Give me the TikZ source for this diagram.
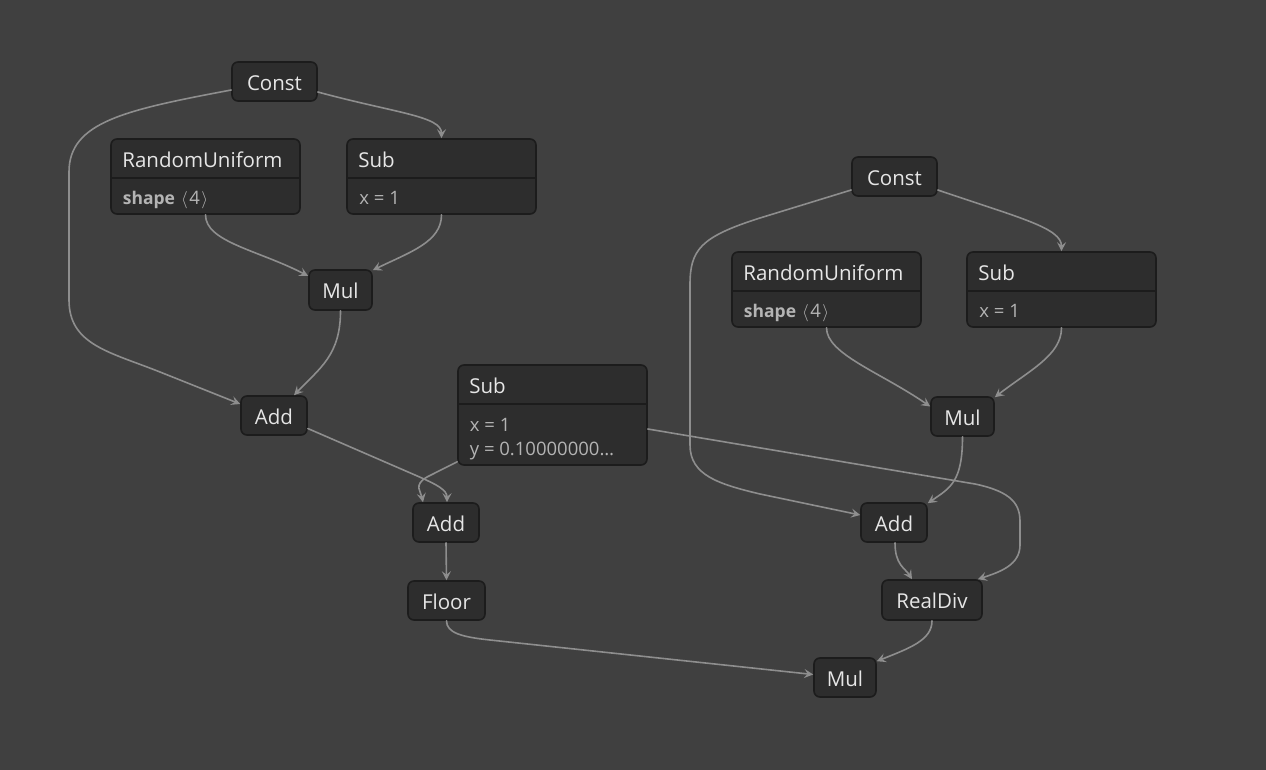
\documentclass[tikz,border=0pt]{standalone}
\usepackage{fontspec}
\setmainfont{Open Sans}
\usetikzlibrary{arrows.meta,calc}

\definecolor{bgcol}{HTML}{404040}
\definecolor{nodefill}{HTML}{2D2D2D}
\definecolor{nodeline}{HTML}{1C1C1C}
\definecolor{titlecol}{HTML}{E6E6E6}
\definecolor{attrcol}{HTML}{B4B4B4}
\definecolor{edgecol}{HTML}{8E8E8E}

\newcommand{\shapeattr}{{\fontsize{17.5}{21}\selectfont\textbf{shape}}\hspace{6pt}\ensuremath{\langle}\hspace{1.5pt}4\hspace{1.5pt}\ensuremath{\rangle}}

\tikzset{
  op/.style={draw=nodeline, fill=nodefill, rounded corners=6pt, line width=1.6pt,
    inner sep=0pt, text=titlecol, text height=17.5pt, text depth=0pt,
    font=\fontsize{20.5}{24}\selectfont},
  ttl/.style={anchor=base west, inner sep=0pt, text=titlecol, font=\fontsize{20.5}{24}\selectfont},
  attr/.style={anchor=base west, inner sep=0pt, text=attrcol, font=\fontsize{18.5}{22}\selectfont},
  sep/.style={draw=nodeline, line width=1.6pt},
  edge/.style={draw=edgecol, line width=1.6pt, line cap=round,
    -{Stealth[length=9pt,width=9pt,inset=3.5pt]}},
}

\begin{document}
\begin{tikzpicture}[x=1pt,y=-1pt]
\useasboundingbox[fill=bgcol] (0,0) rectangle (1266,770);

% ---- left branch ----
\node[op, minimum width=85pt, minimum height=39pt] (c1) at (274.5,81.5) {Const};

\node[op, minimum width=189pt, minimum height=75pt] (ru1) at (205.5,176.5) {};
\draw[sep] ($(ru1.north west)+(0,40)$) -- ($(ru1.north east)+(0,40)$);
\node[ttl] (ru1t) at ($(ru1.north west)+(12,29.5)$) {RandomUniform};
\node[attr] (ru1a) at ($(ru1.north west)+(12.5,66.3)$) {\shapeattr};

\node[op, minimum width=189pt, minimum height=75pt] (sub1) at (441.5,176.5) {};
\draw[sep] ($(sub1.north west)+(0,40)$) -- ($(sub1.north east)+(0,40)$);
\node[ttl] (sub1t) at ($(sub1.north west)+(12,29.5)$) {Sub};
\node[attr] (sub1a) at ($(sub1.north west)+(13,66.3)$) {x = 1};

\node[op, minimum width=63pt, minimum height=40pt] (mul1) at (340.5,290) {Mul};
\node[op, minimum width=66pt, minimum height=39pt] (add1) at (274,415.5) {Add};

% ---- centre ----
\node[op, minimum width=189pt, minimum height=100pt] (sub3) at (552.5,415) {};
\draw[sep] ($(sub3.north west)+(0,40)$) -- ($(sub3.north east)+(0,40)$);
\node[ttl] (sub3t) at ($(sub3.north west)+(12,29.5)$) {Sub};
\node[attr] (sub3a) at ($(sub3.north west)+(12.5,67)$) {x = 1};
\node[attr] (sub3b) at ($(sub3.north west)+(12.5,91.3)$) {y = 0.10000000…};

\node[op, minimum width=66pt, minimum height=39pt] (add2) at (446,522.5) {Add};
\node[op, minimum width=77pt, minimum height=39pt] (floor) at (446.5,600.5) {Floor};

% ---- right branch ----
\node[op, minimum width=85pt, minimum height=39pt] (c2) at (894.5,176.5) {Const};

\node[op, minimum width=189pt, minimum height=75pt] (ru2) at (826.5,289.5) {};
\draw[sep] ($(ru2.north west)+(0,40)$) -- ($(ru2.north east)+(0,40)$);
\node[ttl] (ru2t) at ($(ru2.north west)+(12,29.5)$) {RandomUniform};
\node[attr] (ru2a) at ($(ru2.north west)+(12.5,66.3)$) {\shapeattr};

\node[op, minimum width=189pt, minimum height=75pt] (sub2) at (1061.5,289.5) {};
\draw[sep] ($(sub2.north west)+(0,40)$) -- ($(sub2.north east)+(0,40)$);
\node[ttl] (sub2t) at ($(sub2.north west)+(12,29.5)$) {Sub};
\node[attr] (sub2a) at ($(sub2.north west)+(13,66.3)$) {x = 1};

\node[op, minimum width=63pt, minimum height=39pt] (mul2) at (962.5,416.5) {Mul};
\node[op, minimum width=66pt, minimum height=39pt] (add3) at (894,522.5) {Add};
\node[op, minimum width=100pt, minimum height=40pt] (rdiv) at (932,600) {RealDiv};
\node[op, minimum width=62pt, minimum height=39pt] (mul3) at (845,677.5) {Mul};

% ---- connectors ----
\draw[edge] ($(c1.east)+(0,10.5)$) .. controls (395,113) and (441.5,116) .. (sub1.north);
\draw[edge] ($(c1.west)+(0,8.5)$) .. controls (125,110) and (69,122) .. (69,172)
  -- (69,300) .. controls (69,345) and (110,352) .. (160,372)
  -- ($(add1.west)+(0,-11.5)$);
\draw[edge] (ru1.south) .. controls (205.5,242) and (258,250) .. ($(mul1.west)+(0,-14)$);
\draw[edge] (sub1.south) .. controls (441.5,242) and (410,252) .. ($(mul1.north east)+(0,1)$);
\draw[edge] (mul1.south) .. controls (340.5,355) and (320,368) .. ($(add1.north)+(20,0)$);
\draw[edge] ($(add1.east)+(0,13)$) -- (415,475) .. controls (438,485) and (447,490) .. ($(add2.north)+(1,0)$);
\draw[edge] ($(sub3.south west)+(0,-4)$) -- (427,477) .. controls (413,485) and (421,492) .. ($(add2.north)+(-23,0)$);
\draw[edge] (add2.south) -- (floor.north);
\draw[edge] (floor.south) .. controls (446.5,633) and (462,637) .. (490,640) -- ($(mul3.west)+(0,-3)$);

\draw[edge] ($(c2.east)+(0,13.5)$) .. controls (1020,218) and (1061.5,228) .. (sub2.north);
\draw[edge] ($(c2.west)+(0,13.5)$) -- (760,218) .. controls (700,237) and (690,250) .. (690,285)
  -- (690,445) .. controls (690,475) and (718,484) .. (760,494)
  -- ($(add3.west)+(0,-7.5)$);
\draw[edge] (ru2.south) .. controls (826.5,354) and (880,372) .. ($(mul2.west)+(0,-10)$);
\draw[edge] (sub2.south) .. controls (1061.5,355) and (1030,370) .. ($(mul2.north east)+(0,1)$);
\draw[edge] (mul2.south) .. controls (962.5,482) and (950,488) .. ($(add3.north east)+(0,1)$);
\draw[edge] ($(sub3.east)+(0,14)$) -- (975,484) .. controls (1013,492) and (1020,505) .. (1020,522)
  -- (1020,545) .. controls (1020,565) and (1000,572) .. ($(rdiv.north east)+(-5,0)$);
\draw[edge] ($(add3.south)+(1,0)$) .. controls (895,565) and (905,568) .. ($(rdiv.north)+(-20,0)$);
\draw[edge] (rdiv.south) .. controls (932,640) and (910,648) .. ($(mul3.north east)+(0,4)$);
\end{tikzpicture}
\end{document}
